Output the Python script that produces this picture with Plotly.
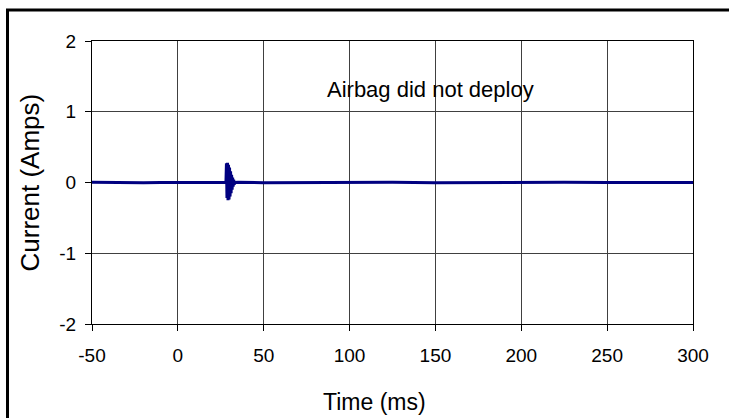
import plotly.graph_objects as go

# Baseline samples of the squib current (ms, A)
base_time = [-50, -40, -30, -20, -10, 0, 10, 20, 27.5]
base_current = [0.002, -0.001, 0.002, -0.002, 0.001, -0.002, 0.002, -0.001, 0.001]

# Short ringing burst when the firing pulse is applied
burst_time = [28.0, 28.3, 28.6, 28.9, 29.2, 29.5, 29.8, 30.1, 30.4, 30.7,
              31.0, 31.3, 31.6, 31.9, 32.2, 32.5, 32.8, 33.2]
burst_current = [0.0, 0.27, -0.22, 0.28, -0.25, 0.25, -0.24, 0.21, -0.2, 0.16,
                 -0.15, 0.11, -0.1, 0.07, -0.06, 0.04, -0.03, 0.0]

tail_time = [35, 50, 75, 100, 125, 150, 175, 200, 225, 250, 275, 300]
tail_current = [0.002, -0.002, 0.002, -0.001, 0.002, -0.002, 0.001, -0.002, 0.002, -0.001, 0.002, -0.001]

time = base_time + burst_time + tail_time
current = base_current + burst_current + tail_current

x_ticks = [-50, 0, 50, 100, 150, 200, 250, 300]
y_ticks = [-2, -1, 0, 1, 2]

font_family = "Liberation Sans, Arial, sans-serif"

fig = go.Figure()
fig.add_trace(go.Scatter(
    x=time, y=current, mode="lines",
    line=dict(color="#000080", width=3),
    showlegend=False, hoverinfo="skip",
))

fig.add_annotation(
    x=147, y=1.32, text="Airbag did not deploy", showarrow=False,
    font=dict(family=font_family, size=22, color="black"),
)

W, H = 729, 418
L, R, T, B = 92, 36, 41, 94
pw, ph = W - L - R, H - T - B

def px(xpix):
    return (xpix - L) / pw

def py(ypix):
    return (H - B - ypix) / ph

# Axis titles
fig.add_annotation(
    xref="paper", yref="paper", x=px(374.5), y=py(402),
    xanchor="center", yanchor="middle",
    text="Time (ms)", showarrow=False,
    font=dict(family=font_family, size=23, color="black"),
)
fig.add_annotation(
    xref="paper", yref="paper", x=px(29), y=0.5, textangle=-90,
    xanchor="center", yanchor="middle",
    text="Current (Amps)", showarrow=False,
    font=dict(family=font_family, size=26, color="black"),
)

# Outer frame around the whole figure
fig.add_shape(type="rect", xref="paper", yref="paper",
              x0=px(7.5), x1=px(740), y0=py(430), y1=py(10),
              line=dict(color="black", width=3), fillcolor="rgba(0,0,0,0)",
              layer="above")

axis_common = dict(
    showgrid=True, gridcolor="#404040", gridwidth=1,
    showline=True, linecolor="black", linewidth=1, mirror=True,
    ticks="outside", ticklen=6, tickcolor="black",
    zeroline=False,
    tickfont=dict(family=font_family, size=19, color="black"),
)

fig.update_layout(
    width=W, height=H,
    margin=dict(l=L, r=R, t=T, b=B),
    paper_bgcolor="white", plot_bgcolor="white",
    font=dict(family=font_family, size=19, color="black"),
    xaxis=dict(range=[-50, 300], tickvals=x_ticks, ticklabelstandoff=8,
               ticktext=[str(v) for v in x_ticks], **axis_common),
    yaxis=dict(range=[-2, 2], tickvals=y_ticks, ticklabelstandoff=5,
               ticktext=[str(v) for v in y_ticks], **axis_common),
)

fig.write_html("out.html")
